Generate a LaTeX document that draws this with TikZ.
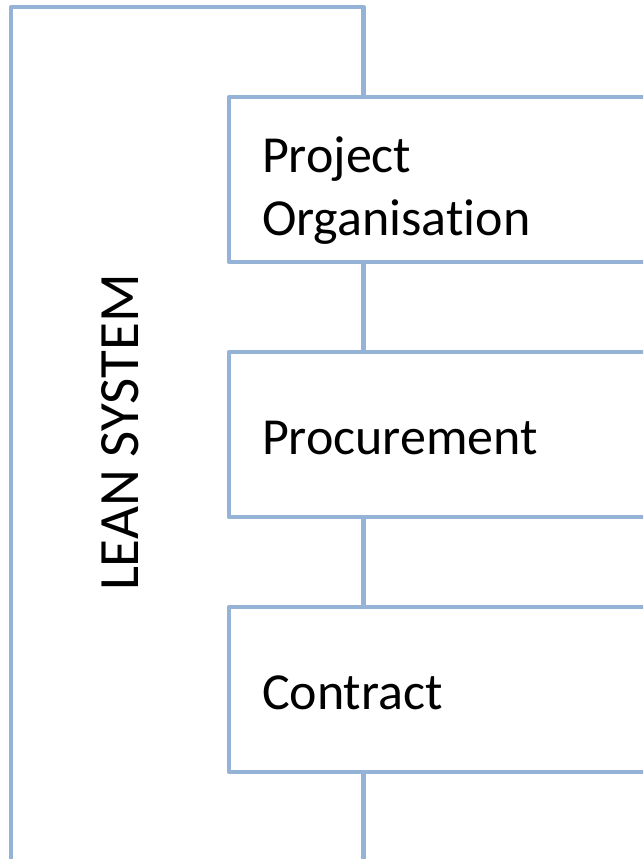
\documentclass[tikz,border=0pt]{standalone}
\usepackage{fontspec}
\setmainfont{Carlito}[Ligatures=NoCommon]
\usetikzlibrary{positioning}
\definecolor{leanblue}{HTML}{95B3D7}

\tikzset{
  stage/.style={rectangle, draw=leanblue, fill=white, line width=4.5pt,
    minimum width=480pt, minimum height=165pt, text width=414pt,
    inner xsep=33pt, align=left, font=\fontsize{52}{63}\selectfont,
    text height=39pt, text depth=0pt},
  twolines/.style={text height=48pt, text depth=63pt},
  link/.style={draw=leanblue, line width=4.5pt}
}

\begin{document}
\begin{tikzpicture}[line cap=round,line join=round,x=1pt,y=-1pt]
				\path[use as bounding box, clip] (0,0) rectangle (643,859);
				% Rahmen
				\coordinate (foot) at (11,880);
				\coordinate (spine) at (363.5,7);
				\coordinate (end) at (363.5,880);
				\node[font=\fontsize{57}{68}\selectfont, rotate=90] (lean) at (120,432.5) {LEAN SYSTEM};
				% Stufen
				\node[stage, twolines, anchor=north west] (org) at (226.75,94.75) {Project\\Organisation};
				\node[stage, below=85.5pt of org] (proc) {Procurement};
				\node[stage, below=85.5pt of proc] (contr) {Contract};
				% Verbindungen
				\draw[link] (foot) |- (spine) -- (org.north -| spine);
				\draw[link] (org.south -| spine) -- (proc.north -| spine);
				\draw[link] (proc.south -| spine) -- (contr.north -| spine);
				\draw[link] (contr.south -| spine) -- (end);
		\end{tikzpicture}
\end{document}
